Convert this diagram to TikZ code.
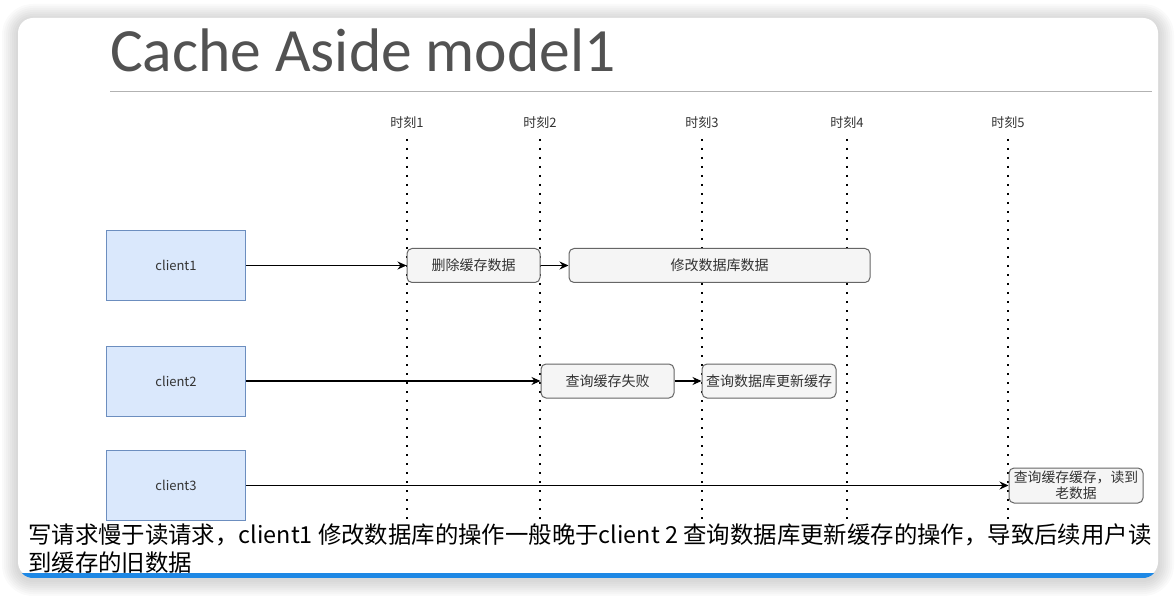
\documentclass[tikz,border=0pt]{standalone}
\usepackage{fontspec}
\setmainfont{Liberation Sans}
\newfontfamily\cjk{Noto Sans CJK SC}
\newfontfamily\titlefont{Carlito}
\usetikzlibrary{arrows.meta}
\definecolor{clientfill}{HTML}{DAE8FC}
\definecolor{clientline}{HTML}{6C8EBF}
\definecolor{actionfill}{HTML}{F5F5F5}
\definecolor{actionline}{HTML}{666666}
\definecolor{labelgray}{HTML}{333333}
\definecolor{slideblue}{HTML}{1E88E5}

\begin{document}
\begin{tikzpicture}[x=1pt, y=-1pt, >={Stealth[length=9pt,width=8pt]}]
			\tikzstyle{client}   = [draw=clientline, fill=clientfill, line width=1pt, minimum width=139pt, minimum height=70pt, inner sep=0pt, text=labelgray, font=\cjk\fontsize{13}{15}\selectfont]
			\tikzstyle{action}   = [draw=actionline, fill=actionfill, line width=1pt, rounded corners=5pt, minimum height=34pt, inner sep=2pt, text=labelgray, font=\cjk\fontsize{14}{16}\selectfont]
			\tikzstyle{moment}   = [inner sep=1pt, text=labelgray, font=\cjk\fontsize{13}{15}\selectfont]
			\tikzstyle{timeline} = [line width=2pt, dash pattern=on 2pt off 7pt]
			\tikzstyle{call}     = [->, line width=1.2pt]

			\useasboundingbox (0,0) rectangle (1176,596);

%			slide card with its shadow
			\foreach \i in {2,4,...,16}
				\fill[black, opacity=0.02, rounded corners=15+\i] (18-\i,20-\i) rectangle (1158+\i,580+\i);
			\fill[white, rounded corners=15] (18,18) rectangle (1158,577);
			\begin{scope}
				\clip[rounded corners=15] (18,18) rectangle (1158,578);
				\fill[slideblue] (18,573) rectangle (1158,578);
			\end{scope}

			\node[anchor=base west, inner sep=0pt, text=black!68, font=\titlefont\fontsize{61.5}{70}\selectfont] (title) at (110,72) {Cache Aside model1};
			\draw[black!30, line width=1pt] (110,92) -- (1152,92);

			\foreach \n/\x in {1/407, 2/540, 3/702, 4/847, 5/1008} {
				\node[moment] (t\n) at (\x,123) {时刻\n};
				\coordinate (b\n) at (\x,520);
				\draw[timeline] (t\n.south |- 0,139) -- (b\n);
			}

			\foreach \name/\y in {client1/265.5, client2/381, client3/485.5}
				\node[client] (\name) at (176,\y) {\name};

			\node[action, minimum width=133pt] (delcache)  at (473.5,265.5) {删除缓存数据};
			\node[action, minimum width=301pt] (updatedb)  at (719.5,265.5) {修改数据库数据};
			\node[action, minimum width=133pt] (missread)  at (607.5,381)   {查询缓存失败};
			\node[action, minimum width=134pt, inner sep=1pt] (loaddb) at (769,381) {查询数据库更新缓存};
			\node[action, minimum width=134pt, minimum height=35pt, inner sep=1pt, align=center, font=\cjk\fontsize{13.8}{16.5}\selectfont] (staleread) at (1076,485.5) {查询缓存缓存，读到\\老数据};

			\foreach \from/\to in {client1/delcache, delcache/updatedb, client2/missread, missread/loaddb, client3/staleread}
				\draw[call] (\from) -- (\to);

			\node[anchor=north west, inner sep=0pt, align=left, font=\cjk\fontsize{23.4}{28}\selectfont] (note) at (28,524) {写请求慢于读请求，client1 修改数据库的操作一般晚于client 2 查询数据库更新缓存的操作，导致后续用户读\\到缓存的旧数据};

		\end{tikzpicture}
\end{document}
